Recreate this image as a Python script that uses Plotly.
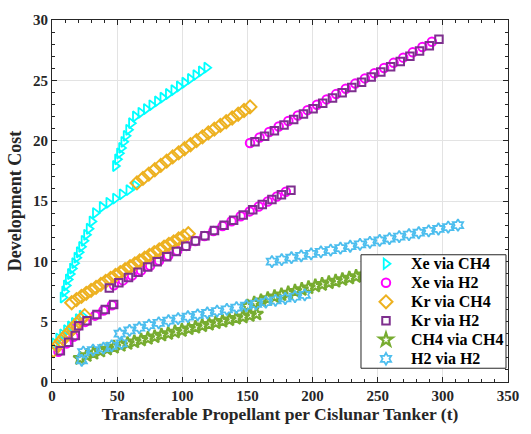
import plotly.graph_objects as go

# ---- data: transferable propellant (t) vs development cost ----
xe_ch4_x = [2, 5, 8, 11, 14, 17, 20, 23,
            8.4, 9.6, 10.9, 12.4, 14.0, 15.6, 17.3, 19.0, 20.8, 22.6, 24.5, 26.4, 28.4, 30.6, 33.2,
            38.4, 43.5, 48.6, 53.7, 58.9, 63.8,
            48.6, 50.2, 51.7, 53.3, 55.0, 56.8, 58.7, 60.9,
            63.9, 68.1, 72.3, 76.5, 80.8, 85.0, 89.2, 93.4, 97.6, 101.8, 106.1, 110.3, 114.5, 118.7]
xe_ch4_y = [3.2, 3.6, 3.95, 4.3, 4.6, 4.9, 5.2, 5.5,
            7.0, 7.5, 8.0, 8.5, 8.95, 9.4, 9.85, 10.3, 10.75, 11.2, 11.7, 12.2, 12.7, 13.3, 14.0,
            14.5, 14.85, 15.2, 15.55, 15.9, 16.3,
            17.9, 18.45, 18.95, 19.4, 19.9, 20.4, 20.9, 21.45,
            22.0, 22.31, 22.62, 22.93, 23.25, 23.56, 23.87, 24.18, 24.49, 24.80, 25.12, 25.43, 25.74, 26.05]

xe_h2_x = [5.0, 11.3, 16.5, 19.0, 25.5, 33.0, 39.5, 46.0,
           47.5, 54.4, 61.4, 68.3, 75.3, 82.2, 89.2, 96.1, 103.1, 110.0,
           117.0, 123.9, 130.9, 137.8, 144.8, 151.7, 158.7, 165.6, 172.6, 179.5,
           152.0, 159.3, 166.7, 174.0, 181.4, 188.7, 196.1, 203.4, 210.8, 218.1,
           225.5, 232.8, 240.2, 247.5, 254.9, 262.2, 269.6, 276.9, 284.3, 291.6]
xe_h2_y = [2.5, 3.2, 3.75, 4.55, 4.98, 5.5, 5.92, 6.36,
           8.01, 8.42, 8.83, 9.23, 9.64, 10.05, 10.46, 10.87, 11.28, 11.69,
           12.10, 12.51, 12.92, 13.32, 13.73, 14.14, 14.55, 14.96, 15.37, 15.77,
           19.80, 20.26, 20.72, 21.18, 21.63, 22.08, 22.53, 22.98, 23.42, 23.86,
           24.30, 24.73, 25.16, 25.59, 26.02, 26.45, 26.88, 27.32, 27.76, 28.20]

kr_ch4_x = [1, 4, 7, 10, 13, 16, 19, 22, 25,
            15.1, 18.8, 22.6, 26.3, 30.0, 33.8, 37.5, 41.2, 45.0, 48.7, 52.4, 56.1, 59.9,
            63.6, 67.3, 71.1, 74.8, 78.5, 82.3, 86.0, 89.7, 93.4, 97.2, 100.9, 104.6,
            65.2, 69.8, 74.3, 78.9, 83.5, 88.0, 92.6, 97.2, 101.7, 106.3,
            110.9, 115.5, 120.0, 124.6, 129.2, 133.7, 138.3, 142.9, 147.4, 152.0]
kr_ch4_y = [2.6, 3.0, 3.4, 3.75, 4.1, 4.45, 4.8, 5.15, 5.5,
            6.57, 6.83, 7.09, 7.35, 7.59, 7.84, 8.09, 8.34, 8.59, 8.83, 9.07, 9.31, 9.55,
            9.79, 10.03, 10.26, 10.50, 10.72, 10.95, 11.18, 11.41, 11.62, 11.86, 12.07, 12.29,
            16.5, 16.87, 17.23, 17.59, 17.95, 18.30, 18.65, 18.99, 19.33, 19.66,
            20.00, 20.32, 20.64, 20.95, 21.26, 21.57, 21.88, 22.19, 22.50, 22.8]

kr_h2_x = [6.4, 12.8, 17.9, 20.5, 26.9, 34.5, 40.9, 47.3,
           44.0, 51.3, 58.7, 66.0, 73.4, 80.7, 88.0, 95.4, 102.7, 110.1,
           117.4, 124.7, 132.1, 139.4, 146.8, 154.1, 161.4, 168.8, 176.1, 183.4,
           155.8, 163.2, 170.7, 178.1, 185.5, 193.0, 200.4, 207.8, 215.3, 222.7,
           230.1, 237.6, 245.0, 252.4, 259.9, 267.3, 274.7, 282.1, 289.6, 297.0]
kr_h2_y = [2.6, 3.3, 3.85, 4.66, 5.07, 5.6, 6.0, 6.43,
           7.80, 8.23, 8.67, 9.10, 9.53, 9.96, 10.39, 10.82, 11.25, 11.68,
           12.12, 12.55, 12.98, 13.41, 13.84, 14.27, 14.70, 15.12, 15.52, 15.90,
           19.90, 20.37, 20.83, 21.29, 21.75, 22.20, 22.65, 23.10, 23.54, 23.98,
           24.41, 24.84, 25.27, 25.70, 26.13, 26.56, 26.99, 27.43, 27.87, 28.40]

ch4_ch4_x = [21.5, 26.7, 31.9, 37.1, 42.3, 47.6, 52.8, 58.0, 63.2, 68.4, 73.6, 78.8, 84.0, 89.2,
             94.4, 99.7, 104.9, 110.1, 115.3, 120.5, 125.7, 130.9, 136.1, 141.3, 146.5, 151.8, 157.0,
             150.0, 155.2, 160.4, 165.6, 170.8, 176.1, 181.3, 186.5, 191.7, 196.9, 202.1, 207.3, 212.5,
             217.7, 222.9, 228.2, 233.4, 238.6, 243.8, 249.0, 254.2, 259.4, 264.6, 269.8, 275.0, 280.3, 285.5]
ch4_ch4_y = [1.96, 2.20, 2.39, 2.57, 2.73, 2.89, 3.04, 3.19, 3.33, 3.48, 3.62, 3.75, 3.89, 4.02,
             4.15, 4.28, 4.41, 4.54, 4.67, 4.79, 4.92, 5.04, 5.16, 5.28, 5.40, 5.52, 5.64,
             6.30, 6.54, 6.73, 6.91, 7.07, 7.23, 7.38, 7.53, 7.67, 7.82, 7.96, 8.09, 8.23,
             8.36, 8.49, 8.62, 8.75, 8.88, 9.01, 9.13, 9.26, 9.38, 9.50, 9.62, 9.74, 9.86, 9.98]

h2_h2_x = [22.8, 24.0, 31.5, 39.5, 45.8, 53.5,
           52.0, 59.5, 66.9, 74.4, 81.9, 89.4, 96.8, 104.3, 111.8, 119.2,
           126.7, 134.2, 141.6, 149.1, 156.6, 164.1, 171.5, 179.0, 186.5, 194.0,
           168.8, 176.3, 183.8, 191.3, 198.9, 206.4, 213.9, 221.4, 228.9, 236.4,
           244.0, 251.5, 259.0, 266.5, 274.0, 281.5, 289.1, 296.6, 304.1, 311.6]
h2_h2_y = [1.8, 2.48, 2.65, 2.8, 3.0, 3.2,
           4.00, 4.27, 4.50, 4.71, 4.90, 5.08, 5.25, 5.41, 5.57, 5.72,
           5.87, 6.02, 6.17, 6.32, 6.47, 6.62, 6.77, 6.92, 7.07, 7.22,
           9.98, 10.14, 10.30, 10.46, 10.62, 10.78, 10.93, 11.09, 11.25, 11.41,
           11.57, 11.73, 11.89, 12.05, 12.21, 12.37, 12.52, 12.68, 12.84, 13.00]

# name, x, y, marker symbol, colour, marker size, outline width
series = [
    ("Xe via CH4", xe_ch4_x, xe_ch4_y, "triangle-right-open", "#00FFFF", 9, 1.8),
    ("Xe via H2", xe_h2_x, xe_h2_y, "circle-open", "#FF00FF", 8.5, 2),
    ("Kr via CH4", kr_ch4_x, kr_ch4_y, "diamond-open", "#EDB120", 10, 2),
    ("Kr via H2", kr_h2_x, kr_h2_y, "square-open", "#7E2F8E", 7.5, 2),
    ("CH4 via CH4", ch4_ch4_x, ch4_ch4_y, "star-open", "#77AC30", 10, 2.2),
    ("H2 via H2", h2_h2_x, h2_h2_y, "hexagram-open", "#4DBEEE", 9, 1.8),
]

FONT = "Liberation Serif"
AXIS_COLOR = "#262626"

fig = go.Figure()
for name, xs, ys, symbol, color, size, lw in series:
    fig.add_trace(go.Scatter(
        x=xs, y=ys, mode="markers",
        # legend rows are spaced from the base legend font; the label itself is set larger
        name=f'<span style="font-size:16px">{name}</span>',
        marker=dict(symbol=symbol, size=size, color=color,
                    line=dict(color=color, width=lw)),
    ))

axis_common = dict(
    showline=True, linecolor=AXIS_COLOR, linewidth=1, mirror="ticks",
    ticks="inside", ticklen=5, tickcolor=AXIS_COLOR, tickwidth=1,
    showgrid=True, gridcolor="#E3E3E3", gridwidth=1, zeroline=False,
    tickfont=dict(family=FONT, size=15, color="#262626", weight="bold"),
)

fig.update_xaxes(
    range=[0, 350], tick0=0, dtick=50,
    minor=dict(dtick=10, ticks="inside", ticklen=3, tickcolor=AXIS_COLOR, showgrid=False),
    title=dict(text="Transferable Propellant per Cislunar Tanker (t)",
               font=dict(family=FONT, size=17.5, color="#262626", weight="bold"), standoff=3),
    **axis_common,
)
fig.update_yaxes(
    range=[0, 30], tick0=0, dtick=5,
    minor=dict(dtick=1, ticks="inside", ticklen=3, tickcolor=AXIS_COLOR, showgrid=False),
    title=dict(text="Development Cost",
               font=dict(family=FONT, size=18, color="#262626", weight="bold"), standoff=6),
    **axis_common,
)

# legend frame: opaque white box with a thin dark border, drawn above the markers
fig.add_shape(
    type="rect", xref="paper", yref="paper",
    x0=0.6776, x1=0.9956, y0=0.038, y1=0.3515,
    fillcolor="white", line=dict(color=AXIS_COLOR, width=1), layer="above",
)

fig.update_layout(
    width=531, height=434,
    margin=dict(l=52, r=23, t=15, b=52),
    paper_bgcolor="white", plot_bgcolor="white",
    font=dict(family=FONT, color="#262626"),
    showlegend=True,
    legend=dict(
        x=0.6776, y=0.3665, xanchor="left", yanchor="top",
        bgcolor="rgba(0,0,0,0)", borderwidth=0,
        font=dict(family=FONT, size=12, color="black", weight="bold"),
        itemwidth=40, tracegroupgap=0,
    ),
)

fig.write_html("out.html")
